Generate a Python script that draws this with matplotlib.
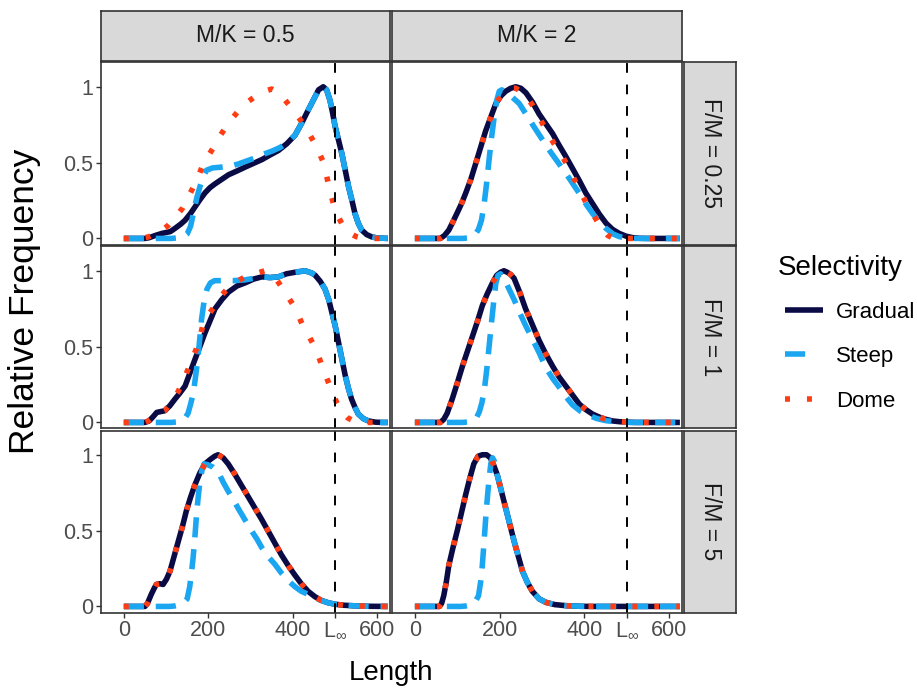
import matplotlib

matplotlib.use("Agg")
import matplotlib.pyplot as plt
from matplotlib.lines import Line2D

plt.rcParams["font.family"] = ["Liberation Sans", "DejaVu Sans"]
plt.rcParams["mathtext.fontset"] = "custom"
plt.rcParams["mathtext.rm"] = "Liberation Sans"
plt.rcParams["lines.scale_dashes"] = False

# facet labels
col_labels = ["M/K = 0.5", "M/K = 2"]
row_labels = ["F/M = 0.25", "F/M = 1", "F/M = 5"]
series_names = ["Gradual", "Steep", "Dome"]
x_ticks = [0, 200, 400, 500, 600]
x_tick_labels = ["0", "200", "400", r"$\mathregular{L_{\infty}}$", "600"]
y_ticks = [0, 0.5, 1]
y_tick_labels = ["0", "0.5", "1"]
l_inf = 500

# (length, relative frequency)
gradual_r1c1 = [(0, 0), (50, 0), (60, 0.005), (75, 0.02), (90, 0.033), (110, 0.045), (121, 0.066),
                (135, 0.095), (145, 0.12), (158, 0.165), (169, 0.21), (180, 0.255), (192, 0.30),
                (204, 0.335), (216, 0.36), (232, 0.39), (248, 0.42), (268, 0.445), (287, 0.47),
                (307, 0.495), (327, 0.52), (346, 0.55), (366, 0.58), (386, 0.625), (405, 0.68),
                (421, 0.76), (437, 0.85), (450, 0.92), (461, 0.98), (472, 1.0), (480, 0.98),
                (488, 0.91), (494, 0.83), (500, 0.74), (508, 0.65), (516, 0.56), (524, 0.45),
                (532, 0.34), (540, 0.25), (547, 0.165), (555, 0.1), (563, 0.055), (575, 0.025),
                (587, 0.01), (600, 0.003), (625, 0)]
steep_r1c1 = [(0, 0), (112, 0), (125, 0.003), (140, 0.01), (150, 0.03), (158, 0.08), (165, 0.17),
              (172, 0.26), (180, 0.34), (188, 0.41), (196, 0.45), (210, 0.465), (230, 0.47),
              (250, 0.475), (270, 0.49), (290, 0.51), (310, 0.53), (330, 0.555), (350, 0.575),
              (370, 0.6), (386, 0.63), (405, 0.68), (421, 0.76), (437, 0.85), (450, 0.92),
              (461, 0.98), (472, 1.0), (480, 0.98), (488, 0.91), (494, 0.83), (500, 0.74),
              (508, 0.65), (516, 0.56), (524, 0.45), (532, 0.34), (540, 0.25), (547, 0.165),
              (555, 0.1), (563, 0.055), (575, 0.025), (587, 0.01), (600, 0.003), (625, 0)]
dome_r1c1 = [(0, 0), (40, 0), (58, 0.01), (80, 0.035), (104, 0.083), (122, 0.14), (139, 0.2),
             (152, 0.27), (163, 0.33), (175, 0.4), (185, 0.47), (197, 0.53), (210, 0.59),
             (224, 0.66), (238, 0.72), (256, 0.79), (274, 0.85), (293, 0.9), (313, 0.94),
             (333, 0.97), (350, 0.985), (368, 0.96), (388, 0.89), (405, 0.83), (421, 0.77),
             (435, 0.71), (449, 0.64), (460, 0.58), (471, 0.51), (478, 0.44), (484, 0.36),
             (491, 0.28), (498, 0.21), (508, 0.14), (520, 0.077), (535, 0.035), (550, 0.012),
             (563, 0.003), (580, 0), (625, 0)]

gradual_r1c2 = [(0, 0), (60, 0), (70, 0.02), (80, 0.055), (88, 0.1), (100, 0.17), (110, 0.23),
                (120, 0.30), (132, 0.39), (143, 0.49), (155, 0.6), (167, 0.71), (179, 0.8),
                (191, 0.89), (203, 0.94), (214, 0.97), (226, 0.99), (238, 1.0), (250, 0.99),
                (262, 0.96), (277, 0.9), (293, 0.82), (309, 0.755), (325, 0.69), (340, 0.615),
                (356, 0.54), (372, 0.46), (388, 0.38), (403, 0.3), (419, 0.23), (435, 0.16),
                (451, 0.1), (466, 0.06), (482, 0.033), (498, 0.015), (514, 0.005), (530, 0.001),
                (545, 0), (625, 0)]
steep_r1c2 = [(0, 0), (112, 0), (125, 0.003), (135, 0.01), (142, 0.025), (150, 0.06), (157, 0.12),
              (163, 0.22), (169, 0.36), (175, 0.52), (181, 0.67), (187, 0.8), (193, 0.91),
              (199, 0.97), (205, 0.98), (215, 0.96), (230, 0.93), (246, 0.89), (262, 0.82),
              (280, 0.74), (301, 0.65), (320, 0.57), (338, 0.5), (356, 0.43), (375, 0.35),
              (392, 0.28), (405, 0.22), (419, 0.165), (435, 0.11), (451, 0.065), (467, 0.03),
              (482, 0.012), (500, 0.003), (515, 0), (625, 0)]
dome_r1c2 = [(0, 0), (60, 0), (70, 0.02), (80, 0.055), (88, 0.1), (100, 0.17), (110, 0.23),
             (120, 0.30), (132, 0.39), (143, 0.49), (155, 0.6), (167, 0.71), (179, 0.8),
             (191, 0.89), (203, 0.94), (214, 0.97), (226, 0.99), (238, 0.99), (250, 0.97),
             (262, 0.94), (277, 0.88), (293, 0.8), (310, 0.71), (327, 0.63), (344, 0.56),
             (360, 0.48), (376, 0.39), (392, 0.30), (405, 0.23), (419, 0.165), (433, 0.1),
             (447, 0.045), (455, 0.02), (465, 0.005), (480, 0), (625, 0)]

gradual_r2c1 = [(0, 0), (50, 0), (60, 0.01), (70, 0.04), (78, 0.066), (88, 0.072), (97, 0.077),
                (109, 0.11), (121, 0.154), (133, 0.195), (145, 0.24), (157, 0.33), (169, 0.42),
                (180, 0.5), (192, 0.59), (204, 0.67), (216, 0.75), (232, 0.81), (248, 0.86),
                (268, 0.9), (287, 0.92), (307, 0.945), (327, 0.96), (346, 0.955), (366, 0.96),
                (385, 0.98), (405, 0.99), (429, 1.0), (445, 0.985), (453, 0.97), (465, 0.93),
                (476, 0.88), (485, 0.81), (492, 0.73), (500, 0.64), (508, 0.53), (516, 0.42),
                (524, 0.31), (532, 0.22), (539, 0.154), (547, 0.1), (555, 0.055), (567, 0.025),
                (579, 0.01), (595, 0.002), (610, 0), (625, 0)]
steep_r2c1 = [(0, 0), (112, 0), (125, 0.003), (135, 0.01), (145, 0.03), (152, 0.06), (158, 0.12),
              (165, 0.2), (172, 0.35), (178, 0.5), (184, 0.68), (190, 0.8), (197, 0.88),
              (205, 0.92), (215, 0.935), (235, 0.935), (260, 0.935), (287, 0.94), (307, 0.95),
              (327, 0.96), (346, 0.955), (366, 0.96), (385, 0.98), (405, 0.99), (429, 1.0),
              (445, 0.985), (453, 0.97), (465, 0.93), (476, 0.88), (485, 0.81), (492, 0.73),
              (500, 0.64), (508, 0.53), (516, 0.42), (524, 0.31), (532, 0.22), (539, 0.154),
              (547, 0.1), (555, 0.055), (567, 0.025), (579, 0.01), (595, 0.002), (610, 0), (625, 0)]
dome_r2c1 = [(0, 0), (50, 0), (58, 0.01), (75, 0.05), (97, 0.077), (112, 0.13), (128, 0.2),
             (140, 0.27), (152, 0.35), (162, 0.42), (171, 0.48), (180, 0.56), (187, 0.64),
             (200, 0.71), (216, 0.77), (232, 0.84), (248, 0.89), (268, 0.93), (287, 0.96),
             (310, 0.98), (334, 1.0), (350, 0.97), (362, 0.94), (374, 0.89), (388, 0.83),
             (402, 0.77), (414, 0.7), (425, 0.63), (440, 0.56), (453, 0.49), (463, 0.42),
             (472, 0.35), (482, 0.28), (492, 0.21), (504, 0.13), (516, 0.07), (530, 0.03),
             (545, 0.008), (560, 0), (625, 0)]

gradual_r2c2 = [(0, 0), (60, 0), (68, 0.02), (76, 0.06), (88, 0.154), (100, 0.26), (112, 0.37),
                (124, 0.47), (136, 0.57), (148, 0.67), (159, 0.77), (171, 0.85), (183, 0.92),
                (193, 0.97), (202, 0.99), (210, 1.0), (218, 0.99), (226, 0.975), (234, 0.95),
                (247, 0.86), (261, 0.75), (277, 0.645), (293, 0.54), (309, 0.45), (325, 0.37),
                (340, 0.3), (356, 0.24), (372, 0.18), (388, 0.12), (403, 0.085), (419, 0.055),
                (435, 0.035), (451, 0.02), (466, 0.01), (482, 0.005), (500, 0.002), (520, 0),
                (625, 0)]
steep_r2c2 = [(0, 0), (112, 0), (125, 0.003), (135, 0.01), (145, 0.03), (152, 0.07), (158, 0.13),
              (164, 0.22), (170, 0.36), (175, 0.5), (180, 0.64), (186, 0.8), (191, 0.92),
              (196, 0.97), (202, 0.98), (210, 0.95), (222, 0.88), (234, 0.81), (246, 0.73),
              (261, 0.64), (277, 0.55), (293, 0.46), (309, 0.36), (325, 0.29), (341, 0.23),
              (356, 0.17), (372, 0.115), (390, 0.075), (411, 0.045), (430, 0.025), (450, 0.012),
              (470, 0.005), (490, 0.001), (510, 0), (625, 0)]
dome_r2c2 = gradual_r2c2  # overlaps the gradual curve

gradual_r3c1 = [(0, 0), (50, 0), (56, 0.02), (65, 0.08), (72, 0.12), (77, 0.145), (85, 0.15),
                (93, 0.145), (101, 0.18), (109, 0.23), (119, 0.33), (129, 0.43), (139, 0.53),
                (148, 0.63), (158, 0.72), (168, 0.80), (180, 0.88), (192, 0.94), (205, 0.97),
                (215, 0.99), (223, 1.0), (235, 0.98), (247, 0.94), (262, 0.875), (278, 0.80),
                (294, 0.725), (310, 0.65), (326, 0.575), (341, 0.5), (357, 0.42), (373, 0.34),
                (389, 0.27), (404, 0.21), (420, 0.15), (436, 0.1), (452, 0.065), (467, 0.04),
                (483, 0.025), (499, 0.015), (520, 0.008), (546, 0.004), (580, 0.001), (625, 0)]
steep_r3c1 = [(0, 0), (108, 0), (120, 0.003), (132, 0.01), (142, 0.025), (150, 0.05), (156, 0.13),
              (160, 0.22), (164, 0.32), (168, 0.45), (172, 0.6), (176, 0.72), (180, 0.82),
              (185, 0.9), (190, 0.94), (198, 0.935), (210, 0.92), (223, 0.89), (235, 0.82),
              (247, 0.76), (260, 0.7), (272, 0.64), (287, 0.57), (302, 0.5), (316, 0.44),
              (326, 0.39), (341, 0.33), (357, 0.28), (373, 0.22), (389, 0.17), (405, 0.13),
              (420, 0.1), (436, 0.08), (452, 0.055), (467, 0.04), (483, 0.025), (499, 0.015),
              (520, 0.008), (546, 0.004), (580, 0.001), (625, 0)]
dome_r3c1 = gradual_r3c1  # overlaps the gradual curve

gradual_r3c2 = [(0, 0), (58, 0), (63, 0.02), (68, 0.07), (74, 0.16), (80, 0.27), (90, 0.39),
                (100, 0.5), (110, 0.62), (120, 0.74), (130, 0.85), (139, 0.94), (149, 0.99),
                (159, 1.0), (169, 1.0), (178, 0.98), (186, 0.93), (194, 0.87), (204, 0.76),
                (214, 0.65), (224, 0.54), (234, 0.43), (244, 0.33), (254, 0.23), (265, 0.16),
                (277, 0.1), (293, 0.05), (309, 0.027), (330, 0.012), (356, 0.005), (390, 0.001),
                (420, 0), (625, 0)]
steep_r3c2 = [(0, 0), (108, 0), (120, 0.003), (132, 0.01), (142, 0.03), (150, 0.07), (155, 0.16),
              (159, 0.27), (163, 0.42), (167, 0.58), (171, 0.72), (175, 0.84), (179, 0.94),
              (183, 0.98), (187, 0.96), (194, 0.87), (204, 0.76), (214, 0.65), (224, 0.54),
              (234, 0.43), (244, 0.33), (254, 0.23), (265, 0.16), (277, 0.1), (293, 0.05),
              (309, 0.027), (330, 0.012), (356, 0.005), (390, 0.001), (420, 0), (625, 0)]
dome_r3c2 = gradual_r3c2  # overlaps the gradual curve

panels = {
    (0, 0): (gradual_r1c1, steep_r1c1, dome_r1c1),
    (0, 1): (gradual_r1c2, steep_r1c2, dome_r1c2),
    (1, 0): (gradual_r2c1, steep_r2c1, dome_r2c1),
    (1, 1): (gradual_r2c2, steep_r2c2, dome_r2c2),
    (2, 0): (gradual_r3c1, steep_r3c1, dome_r3c1),
    (2, 1): (gradual_r3c2, steep_r3c2, dome_r3c2),
}

colors = ["#0a0a45", "#1aa6f0", "#ff3d14"]
styles = [dict(), dict(dashes=(14.5, 8.5)), dict(dashes=(3.6, 12.2))]
key_styles = [dict(), dict(dashes=(14.5, 30)), dict(dashes=(3.6, 12.2))]
LW = 4.0
BORDER = "#333333"

W, H = 917, 692


def box(x0, y0, x1, y1):
    # pixel box -> figure fraction
    return [x0 / W, 1 - y1 / H, (x1 - x0) / W, (y1 - y0) / H]


col_x = [(101, 390), (392, 682)]
row_y = [(62.5, 244.5), (246.5, 428.5), (430.5, 612.5)]

fig = plt.figure(figsize=(W / 100, H / 100), dpi=100)

for (r, c), curves in panels.items():
    x0, x1 = col_x[c]
    y0, y1 = row_y[r]
    ax = fig.add_axes(box(x0, y0, x1, y1))
    for pts, col, st in zip(curves, colors, styles):
        xs = [p[0] for p in pts]
        ys = [p[1] for p in pts]
        ax.plot(xs, ys, color=col, lw=LW, solid_capstyle="butt", dash_capstyle="butt",
                solid_joinstyle="round", **st)
    ax.axvline(l_inf, color="black", lw=1.4, dashes=(7, 8.5))
    ax.set_xlim(-54, 630)
    ax.set_ylim(-0.04, 1.16)
    for s in ax.spines.values():
        s.set_color(BORDER)
        s.set_linewidth(1.2)
    ax.tick_params(length=3.6, width=1.0, color=BORDER, labelcolor="#4d4d4d",
                   labelsize=15.5, pad=2)
    ax.set_xticks(x_ticks)
    ax.set_yticks(y_ticks)
    if r == 2:
        ax.set_xticklabels(x_tick_labels)
    else:
        ax.tick_params(axis="x", length=0, labelbottom=False)
    if c == 0:
        ax.set_yticklabels(y_tick_labels)
    else:
        ax.tick_params(axis="y", length=0, labelleft=False)

# strips
for c, lab in enumerate(col_labels):
    x0, x1 = col_x[c]
    sax = fig.add_axes(box(x0, 11, x1, 61))
    sax.set_facecolor("#d9d9d9")
    sax.set_xticks([])
    sax.set_yticks([])
    for s in sax.spines.values():
        s.set_color(BORDER)
        s.set_linewidth(1.2)
    sax.text(0.5, 0.5, lab, transform=sax.transAxes, ha="center", va="center",
             fontsize=16.5, color="#1a1a1a")

for r, lab in enumerate(row_labels):
    y0, y1 = row_y[r]
    sax = fig.add_axes(box(684, y0, 736, y1))
    sax.set_facecolor("#d9d9d9")
    sax.set_xticks([])
    sax.set_yticks([])
    for s in sax.spines.values():
        s.set_color(BORDER)
        s.set_linewidth(1.2)
    sax.text(0.5, 0.5, lab, transform=sax.transAxes, ha="center", va="center",
             rotation=-90, fontsize=16.5, color="#1a1a1a")

fig.text(391 / W, 1 - 673 / H, "Length", ha="center", va="center", fontsize=20)
fig.text(25 / W, 1 - 301 / H, "Relative Frequency", ha="center", va="center",
         rotation=90, fontsize=25.5)

# legend
fig.text(778 / W, 1 - 268 / H, "Selectivity", ha="left", va="center", fontsize=20)
handles = [Line2D([], [], color=col, lw=LW, solid_capstyle="butt", dash_capstyle="butt", **st)
           for col, st in zip(colors, key_styles)]
fig.legend(handles, series_names, loc="upper left", bbox_to_anchor=(785 / W, 1 - 301.5 / H),
           frameon=False, fontsize=16, handlelength=1.7, handletextpad=0.6,
           labelspacing=1.06, borderaxespad=0, borderpad=0)

fig.savefig("out.png", dpi=100)
